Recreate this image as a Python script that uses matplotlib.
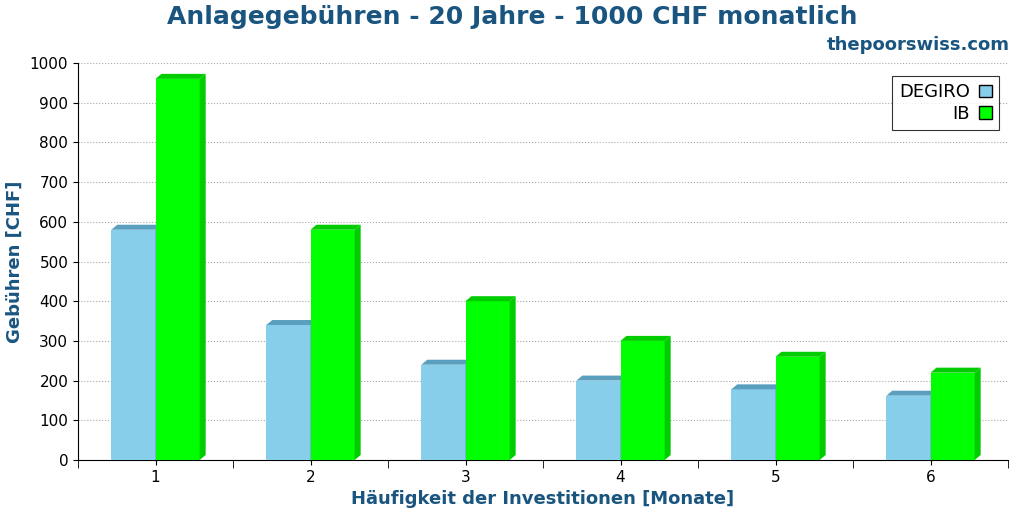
import matplotlib.pyplot as plt
from matplotlib.patches import Polygon, Patch

months = [1, 2, 3, 4, 5, 6]
degiro = [580, 340, 240, 200, 178, 162]
ib = [960, 580, 400, 300, 260, 220]

fig = plt.figure(figsize=(10.24, 5.12), dpi=100)
ax = fig.add_axes([78 / 1024, 52 / 512, 930 / 1024, 397 / 512])

w = 0.285
dx = 6 / 155
dy = 5 * 1000 / 397


def bar3d(x0, h, face, top, side):
    ax.add_patch(Polygon([(x0, 0), (x0 + w, 0), (x0 + w, h), (x0, h)], closed=True,
                         facecolor=face, edgecolor='none', zorder=3))
    ax.add_patch(Polygon([(x0, h), (x0 + dx, h + dy), (x0 + w + dx, h + dy), (x0 + w, h)],
                         closed=True, facecolor=top, edgecolor='none', zorder=3))
    ax.add_patch(Polygon([(x0 + w, 0), (x0 + w + dx, dy), (x0 + w + dx, h + dy), (x0 + w, h)],
                         closed=True, facecolor=side, edgecolor='none', zorder=3))


for m, d, i in zip(months, degiro, ib):
    bar3d(m - w, d, '#87ceeb', '#5a9fbd', '#5a9fbd')
    bar3d(m, i, '#00ff00', '#00cc00', '#00cc00')

ax.set_xlim(0.5, 6.5)
ax.set_ylim(0, 1000)
ax.set_xticks(months)
ax.set_xticks([1.5, 2.5, 3.5, 4.5, 5.5, 6.5, 0.5], minor=True)
ax.tick_params(axis='x', which='minor', length=6)
ax.set_yticks(range(0, 1001, 100))
ax.tick_params(labelsize=11)
ax.grid(axis='y', linestyle=':', color='#aaaaaa', zorder=0)
ax.set_axisbelow(True)
for s in ['top', 'right']:
    ax.spines[s].set_visible(False)

blue = '#1a5580'
ax.set_xlabel('Häufigkeit der Investitionen [Monate]', fontsize=13, fontweight='bold', color=blue, labelpad=4)
ax.set_ylabel('Gebühren [CHF]', fontsize=13, fontweight='bold', color=blue)
fig.text(0.5, 0.967, 'Anlagegebühren - 20 Jahre - 1000 CHF monatlich', ha='center', va='center',
         fontsize=18, fontweight='bold', color=blue)
fig.text(0.986, 0.912, 'thepoorswiss.com', ha='right', va='center', fontsize=13,
         fontweight='bold', color=blue)

handles = [Patch(facecolor='#87ceeb', edgecolor='black'), Patch(facecolor='#00ff00', edgecolor='black')]
leg = ax.legend(handles, ['DEGIRO', 'IB'], loc='upper right', markerfirst=False, fontsize=13,
                fancybox=False, edgecolor='black', handlelength=0.7, handletextpad=0.5,
                borderpad=0.4, labelspacing=0.2, bbox_to_anchor=(1.0, 0.99))
leg.get_frame().set_linewidth(0.8)
for t in leg.get_texts():
    t.set_ha('right')

fig.savefig('out.png', dpi=100)
